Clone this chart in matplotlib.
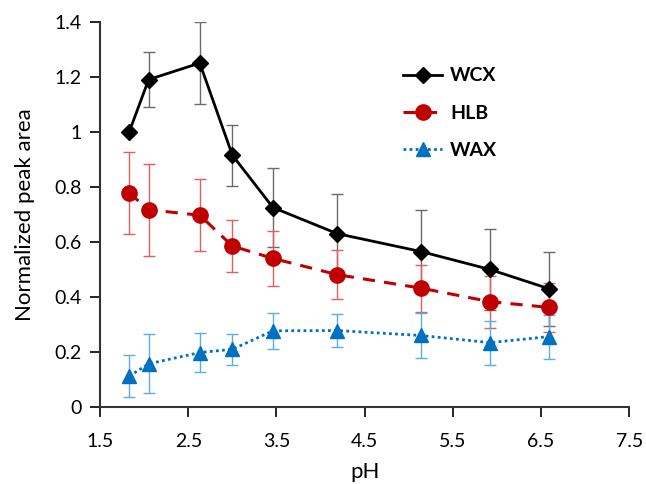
import matplotlib.pyplot as plt

plt.rcParams['font.family'] = ['Lato', 'DejaVu Sans']

ph = [1.83, 2.05, 2.63, 3.0, 3.46, 4.19, 5.14, 5.92, 6.59]

wcx = [1.0, 1.19, 1.25, 0.915, 0.725, 0.63, 0.565, 0.50, 0.43]
wcx_err = [0.0, 0.10, 0.15, 0.11, 0.145, 0.145, 0.15, 0.146, 0.135]

hlb = [0.778, 0.717, 0.697, 0.585, 0.54, 0.481, 0.432, 0.383, 0.362]
hlb_err = [0.15, 0.168, 0.13, 0.095, 0.10, 0.09, 0.085, 0.095, 0.09]

wax = [0.112, 0.157, 0.198, 0.21, 0.277, 0.278, 0.26, 0.234, 0.256]
wax_err = [0.076, 0.107, 0.07, 0.056, 0.065, 0.06, 0.082, 0.08, 0.08]

xticks = [1.5, 2.5, 3.5, 4.5, 5.5, 6.5, 7.5]
yticks = [0, 0.2, 0.4, 0.6, 0.8, 1.0, 1.2, 1.4]
ylabels = ['0', '0.2', '0.4', '0.6', '0.8', '1', '1.2', '1.4']

fig = plt.figure(figsize=(6.46, 4.84), dpi=100)
ax = fig.add_axes([0.155, 0.159, 0.819, 0.796])

# error bars first (lighter colours), then lines on top
ax.errorbar(ph, wcx, yerr=wcx_err, fmt='none', ecolor='#6b6b6b', elinewidth=1, capsize=4, capthick=1, zorder=2)
ax.errorbar(ph, hlb, yerr=hlb_err, fmt='none', ecolor='#e06060', elinewidth=1, capsize=4, capthick=1, zorder=2)
ax.errorbar(ph, wax, yerr=wax_err, fmt='none', ecolor='#5aaee6', elinewidth=1, capsize=4, capthick=1, zorder=2)

ax.plot(ph, wcx, color='black', lw=2, marker='D', ms=8, label='WCX', zorder=5)
ax.plot(ph, hlb, color='#C00000', lw=2.2, ls=(0, (4, 3)), marker='o', ms=11, label='HLB', zorder=4)
ax.plot(ph, wax, color='#0070C0', lw=2, ls=(0, (1, 1.2)), marker='^', ms=10, label='WAX', zorder=3)

ax.set_xlim(1.5, 7.5)
ax.set_ylim(0, 1.4)
ax.set_xticks(xticks)
ax.set_xticklabels([str(t) for t in xticks])
ax.set_yticks(yticks)
ax.set_yticklabels(ylabels)
ax.tick_params(labelsize=14, length=7, width=1.2, direction='out', pad=6)
ax.tick_params(axis='x', pad=12)
ax.spines['top'].set_visible(False)
ax.spines['right'].set_visible(False)
for s in ['left', 'bottom']:
    ax.spines[s].set_linewidth(1.5)
    ax.spines[s].set_color('#333333')

ax.set_xlabel('pH', fontsize=16, labelpad=8)
ax.set_ylabel('Normalized peak area', fontsize=16, labelpad=14)

leg = ax.legend(loc='upper left', bbox_to_anchor=(0.54, 0.927), frameon=False,
                prop={'size': 14, 'weight': 'bold'}, labelspacing=1.05,
                handlelength=2.0, handletextpad=0.4)

fig.savefig('out.png', dpi=100)
